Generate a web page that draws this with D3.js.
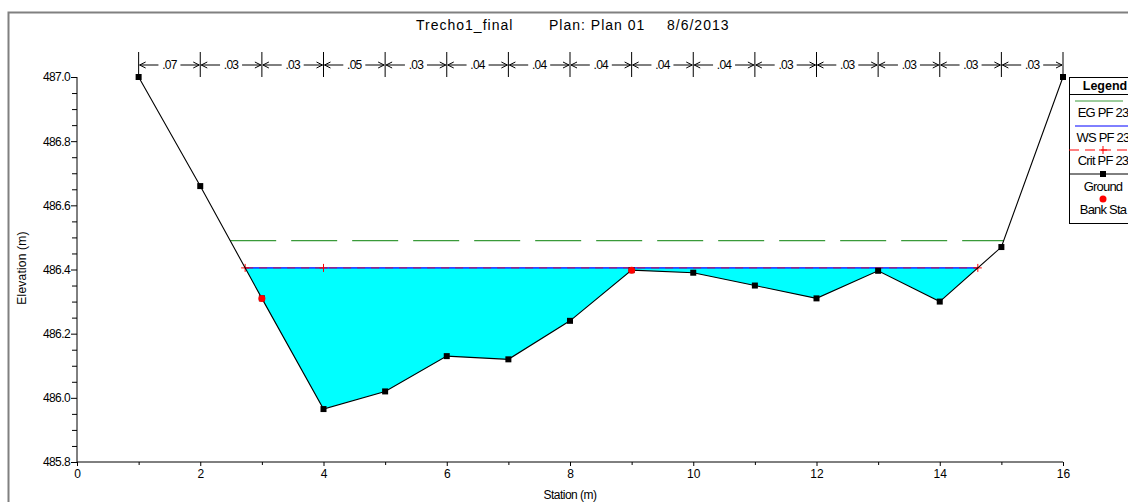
<!DOCTYPE html>
<html>
<head>
<meta charset="utf-8">
<script src="https://cdn.jsdelivr.net/npm/d3@7"></script>
<style>
  body { margin: 0; background: #fff; }
  svg { display: block; font-family: "Liberation Sans", Arial, sans-serif; }
</style>
</head>
<body>
<svg id="xs" width="1128" height="502"></svg>
<script>
// Cross-section data
const stations = [1, 2, 3, 4, 5, 6, 7, 8, 9, 10, 11, 12, 13, 14, 15, 16];
const groundElev = [487.0, 486.66, 486.31, 485.965, 486.02, 486.13, 486.12, 486.24, 486.398, 486.39, 486.35, 486.31, 486.396, 486.30, 486.47, 487.0];
const bankStations = [3, 9];
const manningN = [".07", ".03", ".03", ".05", ".03", ".04", ".04", ".04", ".04", ".04", ".03", ".03", ".03", ".03", ".03"];
const wsElev = 486.405;
const critElev = 486.405;
const egElev = 486.49;
const critMarkStations = [4];
const titleParts = ["Trecho1_final", "Plan: Plan 01", "8/6/2013"];
const legendItems = ["EG PF 23", "WS PF 23", "Crit PF 23", "Ground", "Bank Sta"];

const svg = d3.select("#xs");

// Scales
const x = d3.scaleLinear().domain([0, 16]).range([77, 1063]);
const y = d3.scaleLinear().domain([485.8, 487.0]).range([462, 77]);

const ground = stations.map((s, i) => ({ x: s, y: groundElev[i] }));

// where the ground crosses a level (first from the left, last from the right)
function crossings(level) {
    const xs = [];
    for (let i = 0; i < ground.length - 1; i++) {
        const a = ground[i], b = ground[i + 1];
        if ((a.y - level) * (b.y - level) < 0) {
            xs.push(a.x + (level - a.y) / (b.y - a.y) * (b.x - a.x));
        }
    }
    return [xs[0], xs[xs.length - 1]];
}

// Outer frame
svg.append("path")
    .attr("d", "M8.5,520 V12.5 H1140")
    .attr("fill", "none")
    .attr("stroke", "#808080")
    .attr("stroke-width", 2);

// Title
const titleX = [416, 549, 667];
svg.append("g").selectAll("text")
    .data(titleParts)
    .join("text")
    .attr("x", (d, i) => titleX[i])
    .attr("y", 30)
    .attr("font-size", 14)
    .attr("letter-spacing", 1)
    .attr("fill", "#000")
    .text(d => d);

// Water fill
const [wsL, wsR] = crossings(wsElev);
const fillPts = [{ x: wsL, y: wsElev }]
    .concat(ground.filter(d => d.x > wsL && d.x < wsR))
    .concat([{ x: wsR, y: wsElev }]);

svg.append("path")
    .datum(fillPts)
    .attr("fill", "#00ffff")
    .attr("d", d3.area()
        .x(d => x(d.x))
        .y0(d => y(Math.min(d.y, wsElev)))
        .y1(y(wsElev)));

// EG line
const [egL, egR] = crossings(egElev);
svg.append("line")
    .attr("x1", x(egL)).attr("x2", x(egR))
    .attr("y1", y(egElev)).attr("y2", y(egElev))
    .attr("stroke", "#3a9a3a")
    .attr("stroke-width", 1.2)
    .attr("stroke-dasharray", "46,15");

// WS line
svg.append("line")
    .attr("x1", x(wsL)).attr("x2", x(wsR))
    .attr("y1", y(wsElev)).attr("y2", y(wsElev))
    .attr("stroke", "#0000ff")
    .attr("stroke-width", 1.2);

// Crit line
const [crL, crR] = crossings(critElev);
svg.append("line")
    .attr("x1", x(crL)).attr("x2", x(crR))
    .attr("y1", y(critElev)).attr("y2", y(critElev))
    .attr("stroke", "#ff0000")
    .attr("stroke-width", 1)
    .attr("stroke-dasharray", "8,6")
    .attr("opacity", 0.7);

const plus = (g, cx, cy, s) => {
    g.append("path")
        .attr("d", `M${cx - s},${cy}H${cx + s}M${cx},${cy - s}V${cy + s}`)
        .attr("stroke", "#ff0000")
        .attr("stroke-width", 1);
};
[crL].concat(critMarkStations).concat([crR]).forEach(s => plus(svg, x(s), y(critElev), 4));

// Ground line and markers
svg.append("path")
    .datum(ground)
    .attr("fill", "none")
    .attr("stroke", "#000")
    .attr("stroke-width", 1.1)
    .attr("d", d3.line().x(d => x(d.x)).y(d => y(d.y)));

svg.append("g").selectAll("rect")
    .data(ground)
    .join("rect")
    .attr("x", d => x(d.x) - 3)
    .attr("y", d => y(d.y) - 3)
    .attr("width", 6)
    .attr("height", 6)
    .attr("fill", "#000");

// Bank stations
svg.append("g").selectAll("circle")
    .data(ground.filter(d => bankStations.includes(d.x)))
    .join("circle")
    .attr("cx", d => x(d.x))
    .attr("cy", d => y(d.y))
    .attr("r", 3.5)
    .attr("fill", "#ff0000");

// Manning's n bar
const arrowY = 65;
const nBar = svg.append("g").attr("stroke", "#000").attr("stroke-width", 1);
stations.forEach(s => {
    nBar.append("line")
        .attr("x1", x(s)).attr("x2", x(s))
        .attr("y1", 52).attr("y2", 77);
});
manningN.forEach((n, i) => {
    const x0 = x(stations[i]), x1 = x(stations[i + 1]);
    const cx = (x0 + x1) / 2;
    nBar.append("path")
        .attr("fill", "none")
        .attr("d", `M${x0 + 1},${arrowY}H${cx - 11}M${cx + 11},${arrowY}H${x1 - 1}`);
    nBar.append("path")
        .attr("fill", "none")
        .attr("d", `M${x0 + 7},${arrowY - 3}L${x0 + 1},${arrowY}L${x0 + 7},${arrowY + 3}` +
                   `M${x1 - 7},${arrowY - 3}L${x1 - 1},${arrowY}L${x1 - 7},${arrowY + 3}`);
    svg.append("text")
        .attr("x", cx)
        .attr("y", arrowY + 4)
        .attr("text-anchor", "middle")
        .attr("font-size", 12)
        .attr("letter-spacing", -0.7)
        .text(n);
});

// Axes
const yAxis = svg.append("g").attr("transform", "translate(77,0)");
yAxis.call(d3.axisLeft(y).tickValues(d3.range(485.8, 487.01, 0.2)).tickFormat(d3.format(".1f")).tickSize(6).tickPadding(1))
    .call(g => g.select(".domain").attr("d", "M0,77V462"))
    .call(g => g.selectAll("text").attr("font-size", 12).attr("letter-spacing", -0.6).attr("font-family", "Liberation Sans, Arial"));
yAxis.append("g").call(d3.axisLeft(y).tickValues(d3.range(485.85, 487.0, 0.05).filter((v, i) => (i + 1) % 4 !== 0)).tickFormat("").tickSize(5))
    .call(g => g.select(".domain").remove());

const xAxis = svg.append("g").attr("transform", "translate(0,462)");
xAxis.call(d3.axisBottom(x).tickValues(d3.range(0, 17, 2)).tickFormat(d3.format("d")).tickSize(4).tickPadding(3))
    .call(g => g.select(".domain").attr("d", "M77,0H1063"))
    .call(g => g.selectAll("text").attr("font-size", 12).attr("font-family", "Liberation Sans, Arial"));
xAxis.append("g").call(d3.axisBottom(x).tickValues(d3.range(1, 16, 2)).tickFormat("").tickSize(3))
    .call(g => g.select(".domain").remove());

// Axis titles
svg.append("text")
    .attr("x", 570).attr("y", 499)
    .attr("text-anchor", "middle")
    .attr("font-size", 12)
    .attr("letter-spacing", -0.5)
    .text("Station (m)");

svg.append("text")
    .attr("transform", "translate(26,268) rotate(-90)")
    .attr("text-anchor", "middle")
    .attr("font-size", 12)
    .attr("letter-spacing", 0.2)
    .text("Elevation (m)");

// Legend
const lg = svg.append("g").attr("transform", "translate(1069,77)");
lg.append("rect")
    .attr("x", 0.5).attr("y", 0.5)
    .attr("width", 80).attr("height", 146)
    .attr("fill", "#fff")
    .attr("stroke", "#000");
lg.append("line").attr("x1", 0).attr("x2", 80).attr("y1", 17.5).attr("y2", 17.5).attr("stroke", "#000");
lg.append("text").attr("x", 36).attr("y", 13).attr("text-anchor", "middle")
    .attr("font-size", 12.5).attr("font-weight", "bold").text("Legend");

const cx = 34;
lg.append("line").attr("x1", 6).attr("x2", 54).attr("y1", 24).attr("y2", 24).attr("stroke", "#3a9a3a");
lg.append("line").attr("x1", 6).attr("x2", 80).attr("y1", 49).attr("y2", 49).attr("stroke", "#0000ff");
lg.append("line").attr("x1", 0).attr("x2", 80).attr("y1", 73).attr("y2", 73)
    .attr("stroke", "#ff0000").attr("stroke-dasharray", "10,6");
plus(lg, cx, 73, 4);
lg.append("line").attr("x1", 0).attr("x2", 80).attr("y1", 97).attr("y2", 97).attr("stroke", "#000");
lg.append("rect").attr("x", cx - 3).attr("y", 94).attr("width", 6).attr("height", 6).attr("fill", "#000");
lg.append("circle").attr("cx", cx).attr("cy", 122).attr("r", 3.5).attr("fill", "#ff0000");

const legendY = [40, 65, 88, 114, 137];
lg.append("g").selectAll("text")
    .data(legendItems)
    .join("text")
    .attr("x", cx)
    .attr("y", (d, i) => legendY[i])
    .attr("text-anchor", "middle")
    .attr("font-size", 13)
    .attr("letter-spacing", -0.8)
    .text(d => d);
</script>
</body>
</html>
